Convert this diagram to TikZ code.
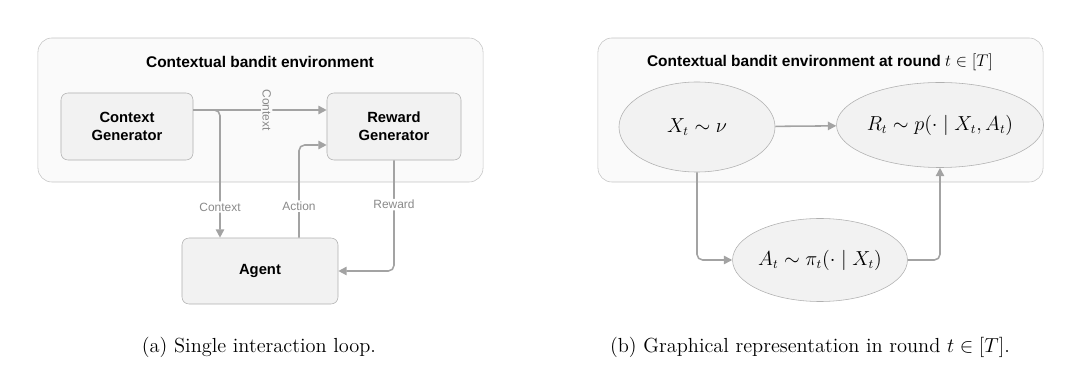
\documentclass[tikz,border=0pt]{standalone}
\usepackage{amsmath}
\usepackage{amssymb}
\usepackage{fontspec}
\usepackage{tikz}
\usetikzlibrary{shapes,arrows.meta,calc,positioning}
\newfontfamily\diagsans{Liberation Sans}
\definecolor{edgegray}{HTML}{A3A3A3}
\definecolor{labelgray}{HTML}{8A8A8A}
\definecolor{framegray}{HTML}{C4C4C4}
\definecolor{envfill}{HTML}{FAFAFA}
\definecolor{boxfill}{HTML}{F2F2F2}

\begin{document}
\begin{tikzpicture}[
  x=0.025cm, y=-0.025cm,
  envbox/.style={rectangle,draw=framegray,fill=envfill,rounded corners=10pt,minimum width=11.125cm,minimum height=3.6cm},
  box/.style={rectangle,draw=framegray!90!black,fill=boxfill,rounded corners=5pt,align=center,font=\diagsans\bfseries\fontsize{10.5}{13}\selectfont},
  oval/.style={ellipse,draw=framegray!90!black,fill=boxfill,inner sep=0pt,font=\fontsize{13.5}{16}\selectfont},
  title/.style={font=\diagsans\bfseries\fontsize{11}{13}\selectfont},
  elabel/.style={font=\diagsans\fontsize{8.5}{10}\selectfont,text=labelgray,inner sep=1pt},
  caption/.style={font=\fontsize{14.5}{17}\selectfont},
  arrow/.style={-{Triangle[length=6pt,width=6pt]},line width=1.1pt,edgegray,rounded corners=4pt},
]
\useasboundingbox (0,0) rectangle (1080,373);

% (a) single interaction loop
\node[envbox] (envA) at (260.5,110) {};
\node[title] (titleA) at (260,62) {Contextual bandit environment};
\node[box,minimum width=3.3cm,minimum height=1.675cm] (ctxgen) at (127,126.5) {Context\\Generator};
\node[box,minimum width=3.35cm,minimum height=1.675cm] (rewgen) at (394,126.5) {Reward\\Generator};
\node[box,minimum width=3.9cm,minimum height=1.65cm] (agent) at (260,271) {Agent};
\coordinate (ctxsplit) at (220,110);
\coordinate (actbend) at (299,145);

\draw[arrow] (ctxgen.east |- ctxsplit) -- node[elabel,fill=envfill,rotate=-90,pos=0.55] {Context} (rewgen.west |- ctxsplit);
\draw[arrow] (ctxgen.east |- ctxsplit) -| node[elabel,fill=white,pos=0.88] {Context} (ctxsplit |- agent.north);
\draw[arrow] (actbend |- agent.north) |- node[elabel,fill=white,pos=0.17] {Action} (rewgen.west |- actbend);
\draw[arrow] (rewgen.south) |- node[elabel,fill=white,pos=0.2] {Reward} (agent.east);

\node[caption] (capA) at (259,347) {(a) Single interaction loop.};

% (b) graphical representation
\node[envbox] (envB) at (820.5,110) {};
\node[title] (titleB) at (820,62) {Contextual bandit environment at round {\fontsize{13}{15}\selectfont$t \in [T]$}};
\node[oval,minimum width=3.9cm,minimum height=2.25cm] (X) at (697,127) {$X_t \sim \nu$};
\node[oval,minimum width=3.775cm,minimum height=2.125cm] (R) at (940,125) {$R_t \sim p(\cdot \mid X_t, A_t)$};
\node[oval,minimum width=3.9cm,minimum height=2.075cm] (A) at (820,260) {$A_t \sim \pi_t(\cdot \mid X_t)$};

\draw[arrow] (X) -- (R);
\draw[arrow] (X.south) |- (A.west);
\draw[arrow] (A.east) -| (R.south);

\node[caption] (capB) at (810,347) {(b) Graphical representation in round $t \in [T]$.};
\end{tikzpicture}
\end{document}
